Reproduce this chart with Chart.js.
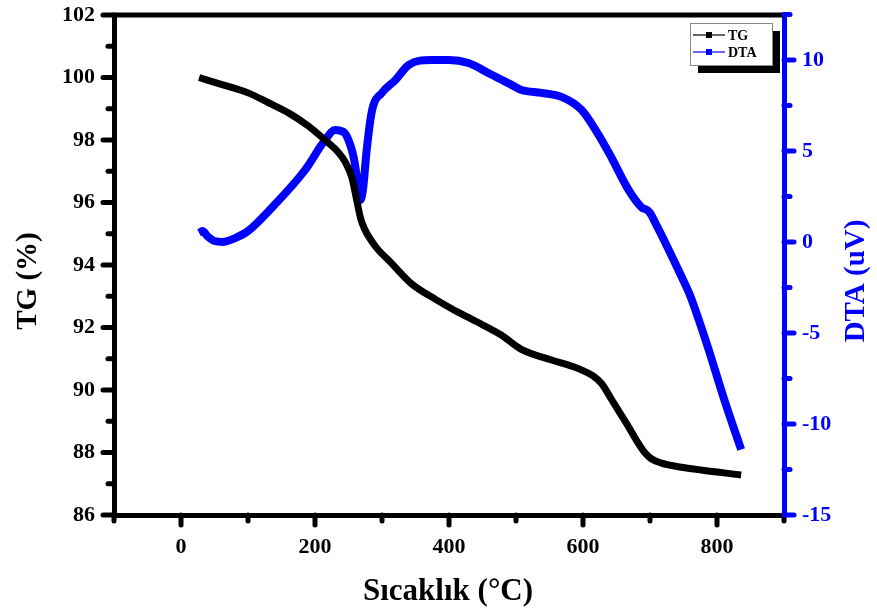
<!DOCTYPE html>
<html>
<head>
<meta charset="utf-8">
<script src="https://cdn.jsdelivr.net/npm/chart.js@4.4.1/dist/chart.umd.min.js"></script>
<style>
  html, body { margin: 0; padding: 0; background: #fff; }
  #wrap { width: 877px; height: 613px; }
</style>
</head>
<body>
<div id="wrap"><canvas id="c"></canvas></div>
<script>
// TG curve (temperature in °C, mass %)
const tgTemp = [27, 60, 101, 130, 161, 190, 215, 235, 245, 255, 262, 268, 274, 290, 314, 344, 380, 404, 440, 478, 508, 553, 585, 600, 615, 628, 642, 655, 668, 680, 692, 702, 717, 750, 776, 836];
const tgValues = [100.0, 99.78, 99.5, 99.2, 98.86, 98.45, 98.0, 97.6, 97.3, 96.8, 96.1, 95.5, 95.15, 94.6, 94.06, 93.4, 92.9, 92.6, 92.2, 91.76, 91.3, 90.96, 90.75, 90.62, 90.45, 90.2, 89.72, 89.27, 88.82, 88.38, 88.0, 87.8, 87.66, 87.52, 87.44, 87.28];

// DTA curve (temperature in °C, uV)
const dtaTemp = [27, 32, 40, 50, 62, 80, 100, 136, 185, 215, 230, 244, 252, 258, 264, 268, 272, 277, 285, 300, 320, 340, 373, 400, 429, 463, 490, 508, 538, 568, 598, 623, 642, 668, 687, 699, 710, 721, 747, 760, 773, 787, 811, 836];
const dtaValues = [0.5, 0.6, 0.3, 0.05, 0.0, 0.2, 0.6, 1.9, 3.95, 5.6, 6.15, 6.0, 5.4, 4.6, 3.2, 2.3, 3.0, 5.0, 7.2, 8.2, 8.9, 9.73, 10.0, 10.0, 9.83, 9.2, 8.7, 8.35, 8.19, 7.97, 7.25, 5.9, 4.67, 2.86, 1.92, 1.65, 0.9, 0.1, -1.9, -2.95, -4.3, -5.85, -8.68, -11.4];

const xTicks = [0, 200, 400, 600, 800];
const xMinor = [-100, 100, 300, 500, 700, 900];
const tgTicks = [86, 88, 90, 92, 94, 96, 98, 100, 102];
const tgMinor = [87, 89, 91, 93, 95, 97, 99, 101];
const dtaTicks = [-15, -10, -5, 0, 5, 10];
const dtaMinor = [-12.5, -7.5, -2.5, 2.5, 7.5, 12.5];

const BLUE = '#0000ff';
const FONT = '"Liberation Serif", "Times New Roman", serif';

const toPoints = (xs, ys) => xs.map((x, i) => ({ x: x, y: ys[i] }));

// ticks, top spine, titles and legend
const decor = {
  id: 'decor',
  afterDraw(chart) {
    const c = chart.ctx;
    const a = chart.chartArea;
    const sx = chart.scales.x, sl = chart.scales.y, sr = chart.scales.y2;
    c.save();
    c.lineCap = 'round';

    // top spine
    c.strokeStyle = '#000';
    c.lineWidth = 5;
    c.beginPath(); c.moveTo(a.left, a.top); c.lineTo(a.right, a.top); c.stroke();

    function tick(x1, y1, x2, y2, col) {
      c.strokeStyle = col; c.lineWidth = 5;
      c.beginPath(); c.moveTo(x1, y1); c.lineTo(x2, y2); c.stroke();
    }
    xTicks.forEach(v => { const p = sx.getPixelForValue(v); tick(p, a.bottom, p, a.bottom + 10, '#000'); });
    xMinor.forEach(v => { const p = sx.getPixelForValue(v); tick(p, a.bottom, p, a.bottom + 6, '#000'); });
    tgTicks.forEach(v => { const p = sl.getPixelForValue(v); tick(a.left, p, a.left - 11, p, '#000'); });
    tgMinor.forEach(v => { const p = sl.getPixelForValue(v); tick(a.left, p, a.left - 6, p, '#000'); });
    dtaTicks.forEach(v => { const p = sr.getPixelForValue(v); tick(a.right, p, a.right + 10, p, BLUE); });
    dtaMinor.forEach(v => { const p = sr.getPixelForValue(v); if (p >= a.top - 1) tick(a.right, p, a.right + 6, p, BLUE); });

    // axis titles
    c.textAlign = 'center';
    c.textBaseline = 'middle';
    c.fillStyle = '#000';
    c.font = 'bold 31px ' + FONT;
    c.fillText('Sıcaklık (°C)', 448, 592);
    c.font = 'bold 29px ' + FONT;
    c.save(); c.translate(29, 281); c.rotate(-Math.PI / 2); c.fillText('TG (%)', 0, 0); c.restore();
    c.fillStyle = BLUE;
    c.save(); c.translate(857, 281); c.rotate(-Math.PI / 2); c.fillText('DTA (uV)', 0, 0); c.restore();

    // legend box with shadow
    const bx = 690, by = 23, bw = 82, bh = 42;
    c.fillStyle = '#000';
    c.fillRect(bx + 8, by + 8, bw, bh);
    c.fillStyle = '#fff';
    c.fillRect(bx, by, bw, bh);
    c.strokeStyle = '#888'; c.lineWidth = 1; c.lineCap = 'butt';
    c.strokeRect(bx + 0.5, by + 0.5, bw, bh);
    c.font = 'bold 14px ' + FONT;
    c.textAlign = 'left';
    chart.data.datasets.forEach((ds, i) => {
      const y = by + 12 + i * 17;
      c.strokeStyle = ds.borderColor; c.lineWidth = 1.2;
      c.beginPath(); c.moveTo(bx + 3, y); c.lineTo(bx + 35, y); c.stroke();
      c.fillStyle = ds.borderColor;
      c.fillRect(bx + 16, y - 3, 6, 6);
      c.fillStyle = '#000';
      c.fillText(ds.label, bx + 38, y + 1);
    });
    c.restore();
  }
};

new Chart(document.getElementById('c'), {
  type: 'line',
  data: {
    datasets: [
      { label: 'TG', data: toPoints(tgTemp, tgValues), yAxisID: 'y', borderColor: '#000', borderWidth: 7, pointRadius: 0, cubicInterpolationMode: 'monotone', fill: false },
      { label: 'DTA', data: toPoints(dtaTemp, dtaValues), yAxisID: 'y2', borderColor: BLUE, borderWidth: 8, pointRadius: 0, cubicInterpolationMode: 'monotone', fill: false }
    ]
  },
  options: {
    responsive: true,
    maintainAspectRatio: false,
    animation: false,
    layout: { padding: { top: 15, left: 0, right: 0, bottom: 0 } },
    plugins: { legend: { display: false }, tooltip: { enabled: false } },
    scales: {
      x: {
        type: 'linear', min: -100, max: 900,
        afterBuildTicks: s => { s.ticks = xTicks.map(v => ({ value: v })); },
        afterFit: s => { s.height = 98; s.paddingLeft = 0; s.paddingRight = 0; },
        grid: { display: false },
        border: { display: true, color: '#000', width: 5 },
        ticks: { color: '#000', padding: 11, font: { family: FONT, size: 22, weight: 'bold' } }
      },
      y: {
        position: 'left', min: 86, max: 102,
        afterBuildTicks: s => { s.ticks = tgTicks.map(v => ({ value: v })); },
        afterFit: s => { s.width = 114; s.paddingTop = 0; s.paddingBottom = 0; },
        grid: { display: false },
        border: { display: true, color: '#000', width: 5 },
        ticks: { color: '#000', padding: 11, font: { family: FONT, size: 22, weight: 'bold' } }
      },
      y2: {
        position: 'right', min: -15, max: 12.47,
        afterBuildTicks: s => { s.ticks = dtaTicks.map(v => ({ value: v })); },
        afterFit: s => { s.width = 93; s.paddingTop = 0; s.paddingBottom = 0; },
        grid: { display: false },
        border: { display: true, color: BLUE, width: 5 },
        ticks: { color: BLUE, padding: 10, font: { family: FONT, size: 22, weight: 'bold' } }
      }
    }
  },
  plugins: [decor]
});
</script>
</body>
</html>
